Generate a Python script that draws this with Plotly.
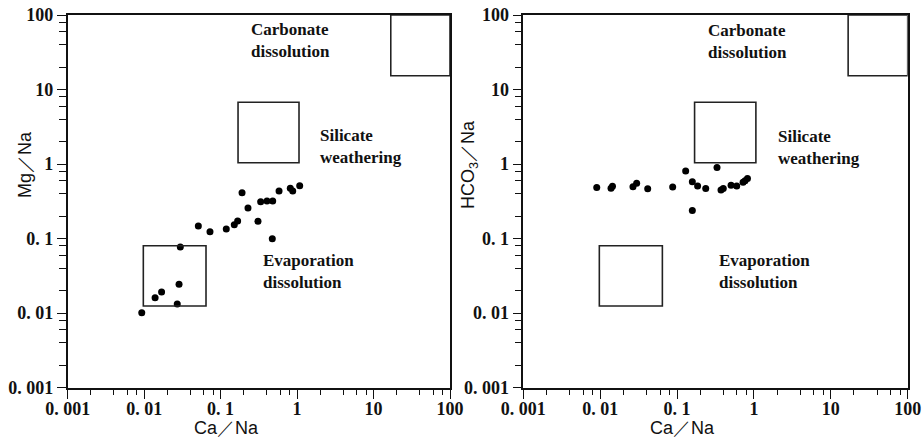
import plotly.graph_objects as go

# ---- data ----
left_ca_na = [0.0093, 0.0139, 0.0169, 0.0271, 0.0286, 0.0297, 0.0511, 0.0726, 0.1186, 0.151, 0.167,
              0.1906, 0.228, 0.308, 0.474, 0.334, 0.404, 0.48, 0.581, 0.815, 0.877, 1.082]
left_mg_na = [0.0101, 0.0161, 0.0192, 0.0133, 0.0244, 0.0773, 0.1476, 0.124, 0.1346, 0.1538, 0.172,
              0.413, 0.2576, 0.1706, 0.0998, 0.313, 0.32, 0.32, 0.435, 0.473, 0.435, 0.513]

right_ca_na = [0.00902, 0.01384, 0.01445, 0.0267, 0.0298, 0.0415, 0.0877, 0.1294, 0.158, 0.185, 0.236,
               0.331, 0.158, 0.373, 0.399, 0.504, 0.597, 0.722, 0.766, 0.824]
right_hco3_na = [0.485, 0.473, 0.503, 0.497, 0.552, 0.468, 0.493, 0.807, 0.580, 0.508, 0.47,
                 0.90, 0.238, 0.449, 0.47, 0.521, 0.508, 0.570, 0.598, 0.641]

# end-member boxes: [x0, x1, y0, y1] in ratio units
carbonate_box = [16.8, 100, 15.3, 100]
silicate_box = [0.169, 1.06, 1.04, 6.74]
evaporation_box = [0.00975, 0.0644, 0.0125, 0.0803]

tick_vals = [0.001, 0.01, 0.1, 1, 10, 100]
tick_text = ["0. 001", "0. 01", "0. 1", "1", "10", "100"]
minor_vals = [m * 10 ** e for e in range(-3, 2) for m in (2, 4, 6, 8)]

fig = go.Figure()
fig.add_trace(go.Scatter(x=left_ca_na, y=left_mg_na, mode="markers",
                         marker=dict(color="black", size=7), xaxis="x", yaxis="y", showlegend=False))
fig.add_trace(go.Scatter(x=right_ca_na, y=right_hco3_na, mode="markers",
                         marker=dict(color="black", size=7), xaxis="x2", yaxis="y2", showlegend=False))

for xr, yr in (("x", "y"), ("x2", "y2")):
    for b in (carbonate_box, silicate_box, evaporation_box):
        fig.add_shape(type="rect", xref=xr, yref=yr, x0=b[0], x1=b[1], y0=b[2], y1=b[3],
                      line=dict(color="#222", width=1.6), fillcolor="rgba(0,0,0,0)")

tickfont = dict(family="Liberation Serif, Times New Roman, serif", size=18, color="#111", weight="bold")
titlefont = dict(family="Liberation Sans, Arial, sans-serif", size=18, color="#111")

def axis_common(domain, anchor, minor_len, standoff):
    return dict(type="log", range=[-3, 2], domain=domain, anchor=anchor, automargin=False,
                showgrid=False, zeroline=False, showline=True, linecolor="#111", linewidth=1.6,
                mirror=True, ticks="outside", ticklen=9, tickwidth=1.4, tickcolor="#111",
                tickmode="array", tickvals=tick_vals, ticktext=tick_text, tickfont=tickfont,
                ticklabelstandoff=standoff,
                minor=dict(tickmode="array", tickvals=minor_vals, ticks="outside", ticklen=minor_len,
                           tickwidth=1.2, tickcolor="#111", showgrid=False))

ydom = [1 - 387.7 / 439, 1 - 15 / 439]
xa = axis_common([67.7 / 922, 450 / 922], "y", 5, -5)
ya = axis_common(ydom, "x", 7, 0)
xa2 = axis_common([523.3 / 922, 907.7 / 922], "y2", 5, -5)
ya2 = axis_common(ydom, "x2", 7, 0)

annfont = dict(family="Liberation Serif, Times New Roman, serif", size=17, color="#111", weight="bold")
labels = [
    ("Carbonate<br>dissolution", 249, 40),
    ("Silicate<br>weathering", 318, 146),
    ("Evaporation<br>dissolution", 261, 271.5),
    ("Carbonate<br>dissolution", 706, 41),
    ("Silicate<br>weathering", 776, 147),
    ("Evaporation<br>dissolution", 717, 271.5),
]
annotations = [dict(text=t, xref="paper", yref="paper", x=px / 922, y=1 - py / 439,
                    xanchor="left", yanchor="middle", align="left", showarrow=False, font=annfont)
               for t, px, py in labels]

# axis titles
titles = [
    ("Ca／Na", 226, 428, 0),
    ("Ca／Na", 682, 428, 0),
    ("Mg／Na", 25, 165, -90),
    ("HCO<sub>3</sub>／Na", 470, 165, -90),
]
for t, px, py, ang in titles:
    annotations.append(dict(text=t, xref="paper", yref="paper", x=px / 922, y=1 - py / 439,
                            xanchor="center", yanchor="middle", textangle=ang, showarrow=False,
                            font=titlefont))

fig.update_layout(width=922, height=439, margin=dict(l=0, r=0, t=0, b=0, pad=0),
                  paper_bgcolor="white", plot_bgcolor="white",
                  xaxis=xa, yaxis=ya, xaxis2=xa2, yaxis2=ya2, annotations=annotations)

fig.write_html("out.html", config={"displayModeBar": False},
               post_script="document.body.style.margin='0';document.body.style.padding='0';"
                           "document.documentElement.style.overflow='hidden';")
